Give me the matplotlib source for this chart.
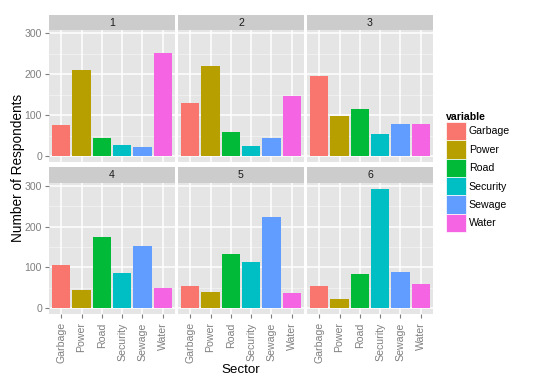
import matplotlib
matplotlib.use("Agg")
import matplotlib.pyplot as plt
from matplotlib.patches import Patch

sectors = ["Garbage", "Power", "Road", "Security", "Sewage", "Water"]
panels = ["1", "2", "3", "4", "5", "6"]
colors = ["#F8766D", "#B79F00", "#00BA38", "#00BFC4", "#619CFF", "#F564E3"]
values_1 = [75, 211, 44, 26, 23, 252]
values_2 = [129, 220, 58, 25, 43, 147]
values_3 = [196, 97, 115, 53, 79, 77]
values_4 = [107, 44, 176, 86, 153, 49]
values_5 = [55, 39, 132, 114, 225, 38]
values_6 = [54, 22, 84, 293, 89, 60]
all_values = [values_1, values_2, values_3, values_4, values_5, values_6]
y_ticks = [0, 100, 200, 300]

plt.rcParams['font.family'] = ['Liberation Sans', 'DejaVu Sans']

W, H = 540, 386
fig = plt.figure(figsize=(W / 100, H / 100), dpi=100)

col_x = [49, 178, 307]
pw = 126
# (strip top, strip bottom / panel top, panel bottom)
rows = [(15, 30, 162), (167, 183, 314)]

ymax_data = max(max(v) for v in all_values)
pad = ymax_data * 0.05
ylim = (-pad, ymax_data + pad)
tick_fs = 7.6
grey = "#7F7F7F"

for i, (lab, vals) in enumerate(zip(panels, all_values)):
    r, c = divmod(i, 3)
    x0 = col_x[c]
    s0, s1, p1 = rows[r]
    ax = fig.add_axes([x0 / W, 1 - p1 / H, pw / W, (p1 - s1) / H])
    ax.set_facecolor("#E5E5E5")
    pos = list(range(len(sectors)))
    ax.set_xlim(-0.6, len(sectors) - 0.4)
    ax.set_ylim(*ylim)
    for yv in [50, 150, 250]:
        ax.axhline(yv, color="#F2F2F2", lw=0.6, zorder=0)
    for yv in y_ticks:
        ax.axhline(yv, color="white", lw=1.1, zorder=0)
    for xv in pos:
        ax.axvline(xv, color="white", lw=1.1, zorder=0)
    ax.bar(pos, vals, width=0.9, color=colors, edgecolor="none", zorder=2)
    for sp in ax.spines.values():
        sp.set_visible(False)
    ax.set_yticks(y_ticks)
    ax.set_xticks(pos)
    if c == 0:
        ax.set_yticklabels([str(t) for t in y_ticks], fontsize=tick_fs, color=grey)
        ax.tick_params(axis="y", length=3, color=grey, width=0.8, pad=2)
    else:
        ax.set_yticklabels([])
        ax.tick_params(axis="y", length=0)
    if r == 1:
        ax.set_xticklabels(sectors, rotation=90, fontsize=tick_fs, color=grey)
        ax.tick_params(axis="x", length=3, color=grey, width=0.8, pad=3)
    else:
        ax.set_xticklabels([])
        ax.tick_params(axis="x", length=0)
    sax = fig.add_axes([x0 / W, 1 - s1 / H, pw / W, (s1 - s0) / H])
    sax.set_facecolor("#CCCCCC")
    sax.set_xticks([])
    sax.set_yticks([])
    for sp in sax.spines.values():
        sp.set_visible(False)
    sax.text(0.5, 0.5, lab, ha="center", va="center", fontsize=tick_fs, color="#1A1A1A",
             transform=sax.transAxes)

fig.text(241 / W, 1 - 370 / H, "Sector", ha="center", va="center", fontsize=9.6)
fig.text(18 / W, 1 - 168 / H, "Number of Respondents", ha="center", va="center",
         rotation=90, fontsize=9.8)

handles = [Patch(facecolor=col, edgecolor="white", linewidth=0.5, label=s)
           for s, col in zip(sectors, colors)]
leg = fig.legend(handles=handles, title="variable", loc="upper left",
                 bbox_to_anchor=(446 / W, 1 - 112 / H), frameon=False,
                 fontsize=tick_fs, handlelength=1.85, handleheight=2.3,
                 handletextpad=0.3, labelspacing=0.0, borderaxespad=0,
                 borderpad=0)
leg.get_title().set_fontweight("bold")
leg.get_title().set_fontsize(tick_fs)
leg._legend_box.align = "left"

fig.savefig("out.png", dpi=100)
